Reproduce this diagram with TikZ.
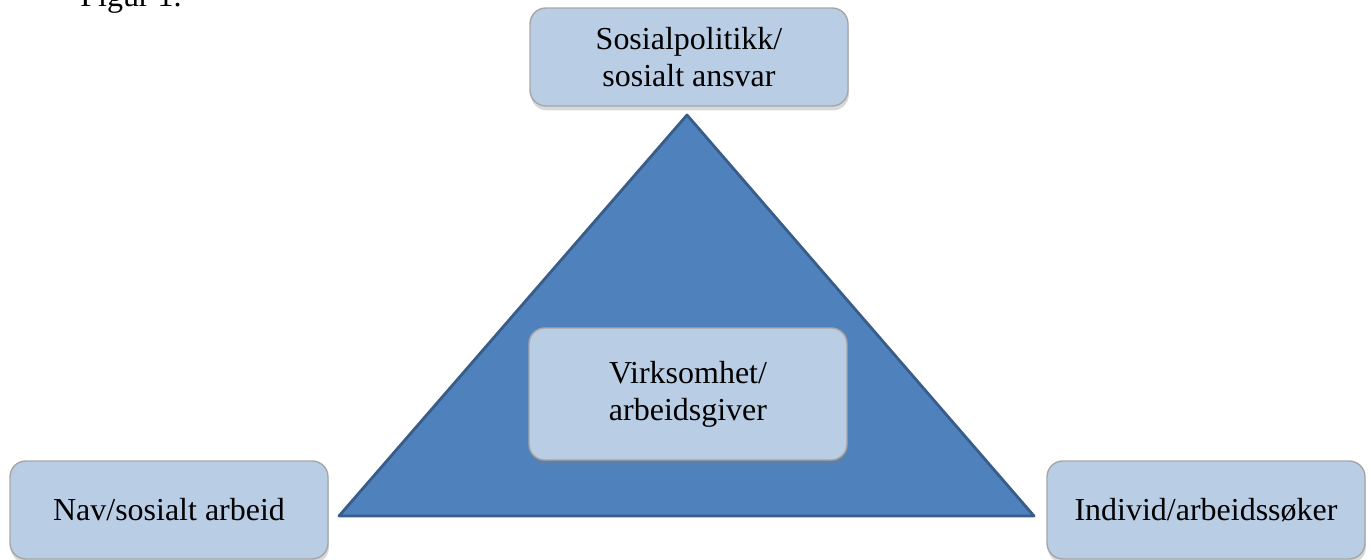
\documentclass[tikz,border=0pt]{standalone}
\usepackage{fontspec}
\setmainfont{Liberation Serif}
\usetikzlibrary{shadows}
\definecolor{boxfill}{HTML}{B9CDE5}
\definecolor{boxline}{HTML}{A6A6A6}
\definecolor{trifill}{HTML}{4F81BD}
\definecolor{triline}{HTML}{385D8A}
\tikzset{
  rolebox/.style={draw=boxline, line width=0.8pt, fill=boxfill, rounded corners=9pt,
    align=center, inner sep=0pt, minimum width=6.36cm, minimum height=1.96cm,
    font=\fontsize{18.2}{21}\selectfont,
    drop shadow={opacity=0.3, shadow xshift=0.5pt, shadow yshift=-2.5pt}},
}
\begin{document}
\begin{tikzpicture}[x=0.02cm, y=-0.02cm]
        \useasboundingbox (0,0) rectangle (1370,560);
        % heading, cut at the top edge
        \node[anchor=base west, inner sep=0pt, font=\fontsize{18.2}{21}\selectfont] (fig) at (80,7) {Figur 1.};
        % the triangle
        \draw[fill=trifill, draw=triline, line width=1.6pt, line join=round] (687,115) -- (1034,516) -- (339,516) -- cycle;
        \node[rolebox] (politikk) at (689,57) {Sosialpolitikk/\\sosialt ansvar};
        \node[rolebox] (nav) at (169,510) {Nav/sosialt arbeid};
        \node[rolebox] (individ) at (1206,510) {Individ/arbeidssøker};
        \node[rolebox, minimum height=2.64cm] (virksomhet) at (688,394) {Virksomhet/\\arbeidsgiver};
\end{tikzpicture}
\end{document}
